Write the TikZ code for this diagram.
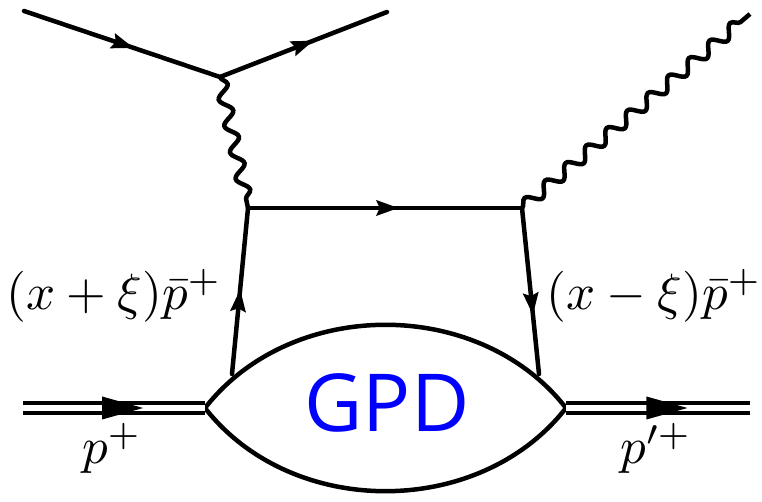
\documentclass[tikz,border=0pt]{standalone}
\usepackage{fontspec}
\newfontfamily\gpdfont{Open Sans}
\usetikzlibrary{decorations.pathmorphing,decorations.markings,arrows.meta}
\begin{document}
\begin{tikzpicture}[x=1pt,y=1pt,
  fer/.style={line width=4.5pt, line cap=round},
  pho/.style={line width=4.5pt, decorate, decoration={snake, segment length=27pt, amplitude=6pt}},
  midarr/.style={postaction={decorate, decoration={markings, mark=at position #1 with {\arrow{Stealth[length=22pt,width=15pt,inset=3pt]}}}}},
  dbl/.style={double, double distance=5.5pt, line width=4.5pt},
  lbl/.style={scale=5.1, anchor=base},
  lens/.style={line width=4.5pt, line join=miter}
  ]
\useasboundingbox (0,0) rectangle (762,502);
% coordinates
\coordinate (e1) at (24,491);
\coordinate (v1) at (220,425);
\coordinate (e2) at (387,490);
\coordinate (v2) at (248,294);
\coordinate (v3) at (522,294);
\coordinate (g2) at (750,488);
\coordinate (qa) at (232,128);
\coordinate (qb) at (539,128);
\coordinate (L) at (205,94);
\coordinate (R) at (566,94);
\coordinate (p1) at (23,94);
\coordinate (p2) at (750,94);
% electrons
\draw[fer, midarr=0.56] (e1) -- (v1);
\draw[fer, midarr=0.56] (v1) -- (e2);
% photons
\draw[pho] (v1) -- (v2);
\draw[pho] (v3) -- (g2);
% quarks
\draw[fer, midarr=0.55] (v2) -- (v3);
\draw[fer, midarr=0.51] (qa) -- (v2);
\draw[fer, midarr=0.645] (v3) -- (qb);
% lens
\draw[lens] (L) to[bend left=52] (R) to[bend left=52] cycle;
% proton lines
\draw[dbl] (p1) -- (L) coordinate[pos=0.66] (ta);
\draw[dbl] (R) -- (p2) coordinate[pos=0.66] (tb);
\fill (ta) -- ++(-41,11.5) -- ++(0,-23) -- cycle;
\fill (tb) -- ++(-41,11.5) -- ++(0,-23) -- cycle;
% labels
\node[lbl] (la) at (114,192) {$(x+\xi)\bar p^+$};
\node[lbl] (lb) at (654,192) {$(x-\xi)\bar p^+$};
\node[lbl] (pa) at (112,38) {$p^+$};
\node[lbl] (pb) at (656,38) {$p'^+$};
\node[anchor=base, text=blue, font=\gpdfont\fontsize{80}{90}\selectfont] (gpd) at (387,70) {GPD};
\end{tikzpicture}
\end{document}
